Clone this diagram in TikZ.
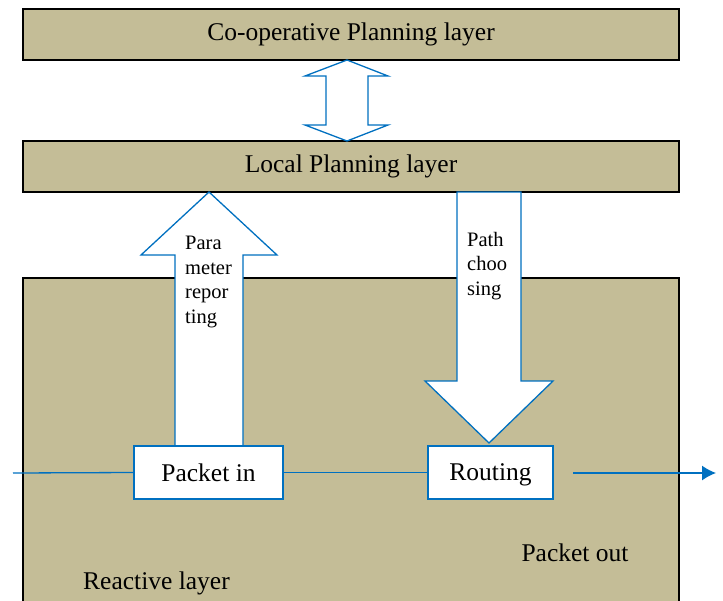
\documentclass[tikz,border=0pt]{standalone}
\usepackage{fontspec}
\setmainfont{Liberation Serif}
\usepackage{xcolor}
\usepackage{tikz}
\usetikzlibrary{arrows.meta, positioning, calc}

\definecolor{layertan}{HTML}{C4BD97}
\definecolor{flowblue}{HTML}{0070C0}

\tikzset{
    layerbox/.style={draw=black, line width=1.6pt, fill=layertan, minimum width=656pt, minimum height=51pt, inner sep=0pt, font=\fontsize{25.5}{30}\selectfont},
    stagebox/.style={draw=flowblue, line width=1.3pt, fill=white, minimum height=53pt, inner sep=0pt, font=\fontsize{25.5}{30}\selectfont},
    blockarrow/.style={draw=flowblue, line width=1.3pt, fill=white, line join=miter},
    flowline/.style={draw=flowblue, line width=1.3pt},
    smalltext/.style={align=left, inner sep=0pt, anchor=north west, font=\fontsize{20.5}{24.5}\selectfont},
    bigtext/.style={inner sep=0pt, font=\fontsize{25.5}{30}\selectfont}
}

\begin{document}
\begin{tikzpicture}[x=1pt, y=-1pt]
    \useasboundingbox (0,0) rectangle (723,600);

    \node[layerbox] (coop) at (351,34.5) {Co-operative Planning layer};
    \node[layerbox] (local) at (351,166.5) {Local Planning layer};
    \node[layerbox, minimum height=340pt, anchor=north] (reactive) at (351,277) {};

    \draw[blockarrow] (347,60) -- (388,76) -- (368,76) -- (368,125) -- (388,125)
        -- (347,141) -- (305,125) -- (326,125) -- (326,76) -- (305,76) -- cycle;

    \draw[blockarrow] (209,192) -- (277,255) -- (243,255) -- (243,446)
        -- (175,446) -- (175,255) -- (141,255) -- cycle;
    \draw[blockarrow] (457,192) -- (521,192) -- (521,381) -- (553,381)
        -- (489,443) -- (425,381) -- (457,381) -- cycle;

    \node[smalltext] (report) at (185,236) {Para\\meter\\repor\\ting};
    \node[smalltext] (choose) at (467,232) {Path\\choo\\sing};

    \node[stagebox, minimum width=149pt] (packetin) at (208.5,472.5) {Packet in};
    \node[stagebox, minimum width=125pt, text depth=0pt] (routing) at (490.5,472.5) {Routing};

    \coordinate (inlet) at (13,473);
    \coordinate (outstart) at (573,473);
    \coordinate (outlet) at (716,473);

    \draw[flowline] (inlet) -- (packetin.west);
    \draw[flowline] (packetin.east) -- (routing.west);
    \draw[flowline, -{Latex[length=14pt, width=15pt]}] (outstart) -- (outlet);

    \node[bigtext] (pktout) at (575,553) {Packet out};
    \node[bigtext] (reactname) at (156.5,583) {Reactive layer};
\end{tikzpicture}
\end{document}
